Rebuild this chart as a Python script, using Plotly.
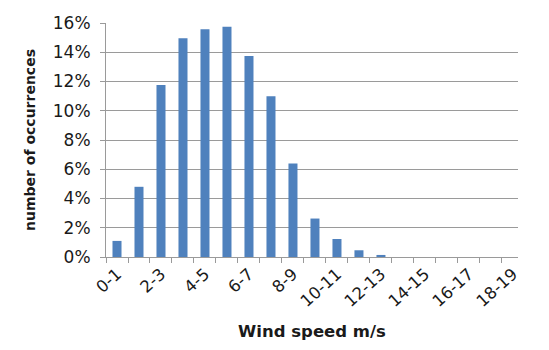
import plotly.graph_objects as go

categories = ["0-1", "1-2", "2-3", "3-4", "4-5", "5-6", "6-7", "7-8", "8-9", "9-10",
              "10-11", "11-12", "12-13", "13-14", "14-15", "15-16", "16-17", "17-18", "18-19"]
occurrence = [0.011, 0.048, 0.1176, 0.1496, 0.1557, 0.1575, 0.1375, 0.110, 0.064, 0.0263,
              0.0123, 0.0046, 0.0014, 0, 0, 0, 0, 0, 0]
tick_labels = [c if i % 2 == 0 else "" for i, c in enumerate(categories)]
y_ticks = [0, 0.02, 0.04, 0.06, 0.08, 0.10, 0.12, 0.14, 0.16]

FONT = "DejaVu Sans"
GRID = "#9a9a9a"
TEXT = "#1a1a1a"

fig = go.Figure(go.Bar(
    x=categories, y=occurrence,
    marker=dict(color="#4F81BD", line=dict(width=0)),
))

fig.update_layout(
    width=549, height=350,
    margin=dict(l=106, r=31, t=23, b=93),
    plot_bgcolor="white", paper_bgcolor="white",
    bargap=0.59, showlegend=False,
    font=dict(family=FONT, color=TEXT),
)
fig.update_xaxes(
    type="category", range=[-0.5, 18.23],
    tickmode="array", tickvals=categories, ticktext=tick_labels,
    tickson="boundaries", ticks="outside", ticklen=5, tickcolor=GRID,
    tickangle=-42, tickfont=dict(size=16.5, family=FONT, color=TEXT),
    showline=True, linecolor=GRID, linewidth=1, showgrid=False,
    title=dict(text="<b>Wind speed m/s</b>", font=dict(size=16.5, family=FONT, color=TEXT), standoff=15),
)
fig.update_yaxes(
    range=[0, 0.16], tickmode="array", tickvals=y_ticks, tickformat=".0%",
    ticks="outside", ticklen=5, tickcolor=GRID,
    tickfont=dict(size=17, family=FONT, color=TEXT), ticklabelstandoff=6,
    showline=True, linecolor=GRID, linewidth=1,
    showgrid=True, gridcolor=GRID, gridwidth=1, zeroline=False,
    title=dict(text="<b>number of occurrences</b>", font=dict(size=14, family=FONT, color=TEXT), standoff=13),
)

fig.write_html("out.html")
